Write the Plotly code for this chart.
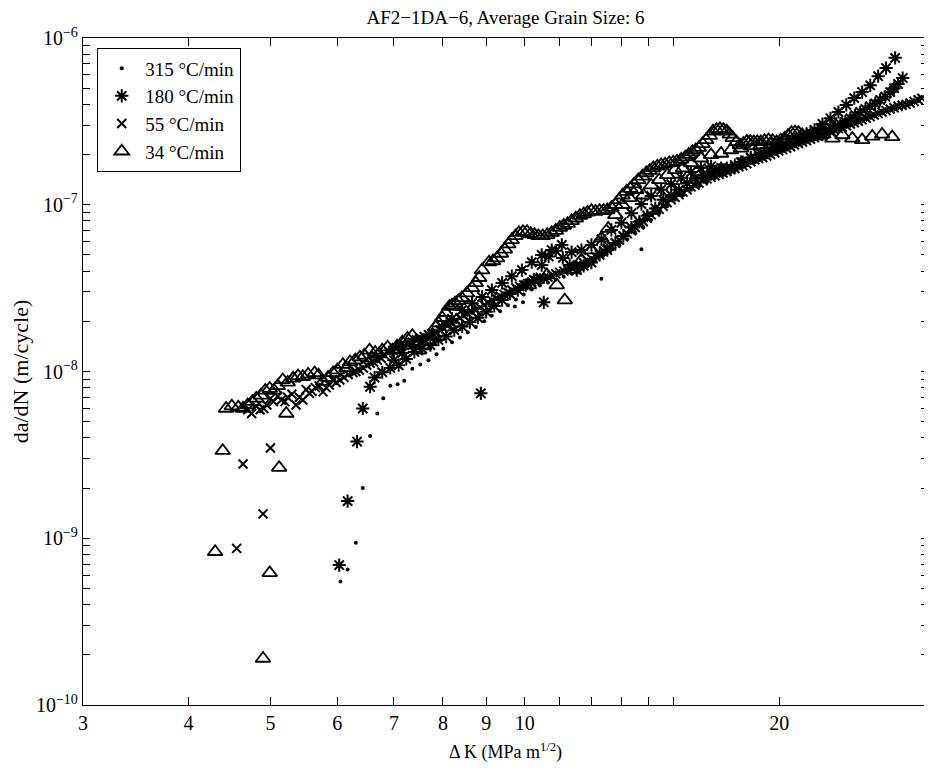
import plotly.graph_objects as go

# ---------------- data ----------------
# 315 C/min (dots)
dk_315 = [6.05, 6.17, 6.31, 6.43, 6.56, 6.69, 6.80, 6.93, 7.07, 7.20,
          7.36, 7.52, 7.69, 7.86, 8.01, 8.20, 8.38, 8.56, 8.75, 8.95,
          9.14, 9.35, 9.55, 9.73, 9.76, 9.95, 9.97, 10.19, 10.42, 10.65,
          10.88, 11.12, 11.36, 11.61, 11.86, 12.12, 12.32, 12.39, 12.66, 12.94,
          13.22, 13.51, 13.74, 13.81, 14.11, 14.42, 14.74, 15.06, 15.39, 15.73,
          16.07, 16.43, 16.79, 17.16, 17.53, 17.92, 18.31, 18.71, 19.12, 19.54,
          19.97, 20.41, 20.85, 21.31, 21.78, 22.26, 22.75, 23.25, 23.76]
dadn_315 = [5.5e-10, 6.5e-10, 9.4e-10, 2.0e-9, 4.1e-9, 5.6e-9, 6.9e-9, 8.2e-9, 8.4e-9, 8.8e-9,
            1.04e-8, 1.1e-8, 1.17e-8, 1.27e-8, 1.37e-8, 1.5e-8, 1.6e-8, 1.72e-8, 1.85e-8, 2.0e-8,
            2.16e-8, 2.3e-8, 2.5e-8, 2.45e-8, 2.7e-8, 2.6e-8, 2.9e-8, 3.1e-8, 3.28e-8, 3.42e-8,
            3.55e-8, 3.7e-8, 3.85e-8, 4.05e-8, 4.28e-8, 4.6e-8, 3.6e-8, 4.98e-8, 5.4e-8, 5.7e-8,
            6.2e-8, 6.75e-8, 5.4e-8, 7.3e-8, 8.1e-8, 8.9e-8, 9.8e-8, 1.07e-7, 1.14e-7, 1.23e-7,
            1.29e-7, 1.37e-7, 1.45e-7, 1.51e-7, 1.57e-7, 1.66e-7, 1.73e-7, 1.80e-7, 1.9e-7, 1.99e-7,
            2.07e-7, 2.18e-7, 2.28e-7, 2.38e-7, 2.52e-7, 2.64e-7, 2.81e-7, 2.97e-7, 3.15e-7]

# 180 C/min (asterisks)
dk_180 = [6.03, 6.17, 6.33, 6.43, 6.56, 8.87,
          6.64, 6.78, 6.93, 7.09, 7.24, 7.40, 7.56, 7.73, 7.90, 8.07,
          8.25, 8.43, 8.61, 8.80, 9.00, 9.20, 9.40, 9.60, 9.81, 10.03,
          10.25, 10.47, 10.53, 10.67, 10.88, 11.09, 11.30, 11.52, 11.74, 11.99,
          12.26, 12.52, 12.80, 13.08, 13.37, 13.66, 13.96, 14.27, 14.58, 14.90,
          15.22, 15.56, 15.91, 16.25, 16.61, 16.98, 17.34, 17.72, 18.11, 18.51,
          18.91, 19.33, 19.76, 20.19, 20.63, 21.08, 21.55, 22.02,
          23.00, 23.63, 24.28, 24.94, 25.63, 26.33, 27.06, 27.65, 28.0,
          7.0, 7.16, 7.36, 7.56, 7.77, 7.98, 8.20, 8.43, 8.66, 8.90,
          9.14, 9.40, 9.65, 9.92, 10.19, 10.47, 10.76, 11.06, 11.36, 11.67,
          11.99, 12.32, 12.66, 13.01, 13.37, 13.74, 14.11, 14.50, 14.90, 15.31,
          15.73, 16.16, 16.61, 17.07, 17.53, 18.02, 18.51, 19.02, 19.54, 20.08,
          20.63, 21.20, 21.78, 22.38, 22.50, 23.00, 23.50, 24.01, 24.54, 25.07,
          25.63, 26.19, 26.76, 27.43,
          22.70, 23.30, 23.95, 24.60, 25.30, 25.98, 26.70, 27.35]
dadn_180 = [6.9e-10, 1.67e-9, 3.8e-9, 6.0e-9, 8.1e-9, 7.4e-9,
            9.2e-9, 9.9e-9, 1.05e-8, 1.09e-8, 1.19e-8, 1.31e-8, 1.37e-8, 1.44e-8, 1.55e-8, 1.62e-8,
            1.77e-8, 1.86e-8, 1.98e-8, 2.1e-8, 2.28e-8, 2.47e-8, 2.68e-8, 2.93e-8, 3.08e-8, 3.3e-8,
            3.54e-8, 4.35e-8, 2.6e-8, 4.9e-8, 5.3e-8, 4.8e-8, 4.35e-8, 4.06e-8, 4.3e-8, 4.5e-8,
            5.0e-8, 5.35e-8, 5.9e-8, 6.5e-8, 7.3e-8, 7.9e-8, 8.6e-8, 9.5e-8, 1.07e-7, 1.14e-7,
            1.23e-7, 1.35e-7, 1.44e-7, 1.51e-7, 1.57e-7, 1.62e-7, 1.66e-7, 1.73e-7, 1.80e-7, 1.9e-7,
            1.99e-7, 2.07e-7, 2.18e-7, 2.28e-7, 2.38e-7, 2.52e-7, 2.66e-7, 2.81e-7,
            2.9e-7, 3.05e-7, 3.3e-7, 3.6e-7, 3.9e-7, 4.25e-7, 4.74e-7, 5.3e-7, 5.75e-7,
            1.17e-8, 1.29e-8, 1.44e-8, 1.55e-8, 1.67e-8, 1.86e-8, 2.07e-8, 2.34e-8, 2.57e-8, 2.8e-8,
            3.08e-8, 3.4e-8, 3.73e-8, 4.06e-8, 4.52e-8, 5.0e-8, 5.35e-8, 5.74e-8, 5.2e-8, 5.35e-8,
            5.74e-8, 6.2e-8, 7.06e-8, 7.8e-8, 8.9e-8, 1.01e-7, 1.13e-7, 1.23e-7, 1.33e-7, 1.45e-7,
            1.57e-7, 1.66e-7, 1.70e-7, 1.66e-7, 1.66e-7, 1.8e-7, 1.92e-7, 2.03e-7, 2.13e-7, 2.25e-7,
            2.38e-7, 2.52e-7, 2.69e-7, 2.88e-7, 3.05e-7, 3.3e-7, 3.6e-7, 3.97e-7, 4.36e-7, 4.74e-7,
            5.2e-7, 5.9e-7, 6.6e-7, 7.6e-7,
            2.8e-7, 2.98e-7, 3.15e-7, 3.45e-7, 3.75e-7, 4.05e-7, 4.45e-7, 5.0e-7]

# 55 C/min (crosses)
dk_55 = [4.64, 5.00, 4.90, 4.56,
         4.75, 4.86, 4.95, 5.04, 5.15, 5.24, 5.36, 5.46, 5.56, 5.65,
         5.77, 5.87, 5.98, 6.11, 6.26, 6.37, 6.50, 6.62, 6.76, 6.91,
         7.05, 7.20, 7.36, 7.52, 7.69, 7.86, 8.01, 8.20, 8.38, 8.56,
         8.75, 8.95, 9.14, 9.35, 9.55, 9.76, 9.97, 10.19, 10.42, 10.65,
         10.88, 11.12, 11.36, 11.61, 11.86, 12.12, 12.39, 12.66, 12.94, 13.22,
         13.51, 13.81, 14.11, 14.42, 14.74, 15.06, 15.39, 15.73, 16.07, 16.43,
         16.79, 17.16, 17.53, 17.92, 18.31, 18.71, 19.12, 19.54, 19.97, 20.41,
         20.85, 21.31, 21.78, 22.26, 22.75, 23.25, 23.76, 24.28, 24.81, 25.35,
         25.91, 26.47, 27.06, 27.65, 28.26, 28.88, 29.5,
         4.70, 4.81, 4.91, 5.00, 5.10, 5.20, 5.30, 5.41, 5.51, 5.60,
         5.71, 5.82, 5.93, 6.04, 6.18, 6.31, 6.44, 6.56, 6.69, 6.83,
         6.98, 7.12, 7.28, 7.44, 7.60, 7.77, 7.94, 8.10, 8.29, 8.47,
         8.65, 8.85, 9.04, 9.25, 9.45, 9.65, 9.86, 10.08, 10.30, 10.53,
         10.76, 11.00, 11.24, 11.48, 11.74, 11.99, 12.26, 12.52, 12.80, 13.08,
         13.37, 13.66, 13.96, 14.27, 14.58, 14.90, 15.22, 15.56, 15.90, 16.25,
         16.61, 16.98, 17.34, 17.72, 18.11, 18.51, 18.91, 19.33, 19.76, 20.19,
         20.63, 21.08, 21.55, 22.02, 22.50, 23.00, 23.50, 24.02, 24.54, 25.07,
         25.63, 26.19, 26.76, 27.35, 27.95, 28.57, 29.20]
dadn_55 = [2.79e-9, 3.48e-9, 1.40e-9, 8.7e-10,
           5.6e-9, 5.9e-9, 6.3e-9, 6.6e-9, 6.75e-9, 7.0e-9, 6.3e-9, 6.75e-9, 7.4e-9, 8.0e-9,
           7.55e-9, 8.3e-9, 8.6e-9, 9.2e-9, 9.85e-9, 1.02e-8, 1.09e-8, 1.14e-8, 1.2e-8, 1.31e-8,
           1.38e-8, 1.44e-8, 1.5e-8, 1.59e-8, 1.66e-8, 1.72e-8, 1.82e-8, 1.95e-8, 2.1e-8, 2.23e-8,
           2.34e-8, 2.5e-8, 2.68e-8, 2.83e-8, 2.98e-8, 3.17e-8, 3.3e-8, 3.44e-8, 3.6e-8, 3.68e-8,
           3.85e-8, 4.0e-8, 4.18e-8, 4.35e-8, 4.6e-8, 4.92e-8, 5.3e-8, 5.66e-8, 6.15e-8, 6.7e-8,
           7.3e-8, 7.9e-8, 8.7e-8, 9.4e-8, 1.03e-7, 1.11e-7, 1.19e-7, 1.28e-7, 1.35e-7, 1.43e-7,
           1.49e-7, 1.55e-7, 1.62e-7, 1.69e-7, 1.76e-7, 1.86e-7, 1.92e-7, 2.0e-7, 2.1e-7, 2.18e-7,
           2.28e-7, 2.38e-7, 2.47e-7, 2.57e-7, 2.68e-7, 2.81e-7, 2.92e-7, 3.05e-7, 3.17e-7, 3.3e-7,
           3.45e-7, 3.6e-7, 3.75e-7, 3.9e-7, 4.0e-7, 4.17e-7, 4.35e-7,
           5.9e-9, 6.2e-9, 6.0e-9, 6.9e-9, 7.1e-9, 6.6e-9, 7.3e-9, 7.0e-9, 7.8e-9, 7.6e-9,
           8.2e-9, 8.0e-9, 8.9e-9, 8.9e-9, 9.6e-9, 1.0e-8, 1.05e-8, 1.12e-8, 1.17e-8, 1.25e-8,
           1.34e-8, 1.42e-8, 1.46e-8, 1.55e-8, 1.62e-8, 1.69e-8, 1.77e-8, 1.88e-8, 2.02e-8, 2.17e-8,
           2.28e-8, 2.42e-8, 2.6e-8, 2.75e-8, 2.9e-8, 3.08e-8, 3.24e-8, 3.37e-8, 3.52e-8, 3.64e-8,
           3.77e-8, 3.93e-8, 4.09e-8, 4.26e-8, 4.48e-8, 4.75e-8, 5.1e-8, 5.48e-8, 5.9e-8, 6.42e-8,
           7.0e-8, 7.6e-8, 8.3e-8, 9.05e-8, 9.8e-8, 1.07e-7, 1.15e-7, 1.23e-7, 1.31e-7, 1.39e-7,
           1.46e-7, 1.52e-7, 1.58e-7, 1.65e-7, 1.72e-7, 1.81e-7, 1.89e-7, 1.96e-7, 2.05e-7, 2.14e-7,
           2.23e-7, 2.33e-7, 2.42e-7, 2.52e-7, 2.62e-7, 2.74e-7, 2.86e-7, 2.98e-7, 3.1e-7, 3.23e-7,
           3.37e-7, 3.52e-7, 3.67e-7, 3.82e-7, 3.95e-7, 4.08e-7, 4.26e-7]

# 34 C/min (triangles)
dk_34 = [4.30, 4.39, 4.90, 4.99, 5.12, 5.22,
         4.43, 4.58, 4.70, 4.81, 4.93, 5.05, 5.17, 5.32, 5.46, 5.64,
         5.77, 5.93, 6.09, 6.21, 6.38, 6.55, 6.65, 6.78, 6.97, 7.16,
         7.36, 7.49, 7.71, 7.84, 7.98, 8.14, 8.27, 8.42, 8.66, 8.83, 8.90,
         9.07, 9.27, 9.47, 9.65, 9.84, 10.06, 10.27, 10.50, 10.76, 11.00,
         11.24, 11.49, 11.74, 11.99, 12.26, 12.52, 12.80, 13.05, 13.33, 13.62,
         13.92, 14.19, 14.50, 14.82, 15.14, 15.48, 15.78, 16.07, 16.39, 16.70,
         17.02, 17.34, 17.62, 17.97, 18.31, 18.66, 19.02, 19.43, 19.86, 20.30,
         20.68, 21.08, 21.55, 22.02, 22.50, 23.12, 23.76, 24.41, 25.07, 25.77,
         26.47, 27.21,
         10.11, 10.33, 10.62, 10.91, 11.15, 11.42, 11.67, 11.99, 12.32, 12.55,
         12.80, 13.05, 13.30, 13.55, 13.81, 14.11, 14.42, 14.74, 15.06, 15.39,
         15.73, 16.16, 16.61, 17.07, 17.53, 18.02, 18.51, 19.02, 19.54,
         4.50, 4.64, 4.76, 4.87, 4.99, 5.10, 5.24, 5.39, 5.54, 5.70,
         5.85, 6.00, 6.15, 6.30, 6.46, 6.60, 6.72, 6.88, 7.06, 7.26,
         7.42, 7.60, 7.78, 7.91, 8.06, 8.20, 8.34, 8.54, 8.75,
         9.17, 9.37, 9.56, 9.75, 9.95, 10.16, 10.38, 10.63, 10.88, 11.12,
         11.36, 11.62, 11.86, 12.12, 12.39, 12.66, 12.92, 13.19, 13.47, 13.77,
         14.05, 14.35, 14.66, 14.98, 15.31, 15.63, 15.93, 16.23, 16.55, 16.86,
         17.18, 17.48, 17.80, 18.14, 18.48, 18.84, 19.22, 19.64, 20.08, 20.49,
         20.88, 21.30, 21.78, 22.26]
dadn_34 = [8.3e-10, 3.35e-9, 1.9e-10, 6.2e-10, 2.65e-9, 5.6e-9,
           6.0e-9, 6.1e-9, 6.3e-9, 6.9e-9, 7.7e-9, 7.7e-9, 8.9e-9, 9.1e-9, 9.3e-9, 9.8e-9,
           8.7e-9, 9.8e-9, 1.1e-8, 1.14e-8, 1.22e-8, 1.34e-8, 1.3e-8, 1.34e-8, 1.34e-8, 1.5e-8,
           1.64e-8, 1.34e-8, 1.5e-8, 1.85e-8, 2.1e-8, 2.45e-8, 2.57e-8, 2.76e-8, 3.17e-8, 3.65e-8, 4.06e-8,
           4.53e-8, 4.78e-8, 5.4e-8, 6.15e-8, 6.8e-8, 6.9e-8, 6.6e-8, 6.5e-8, 6.8e-8, 7.3e-8,
           7.7e-8, 8.3e-8, 8.8e-8, 9.2e-8, 9.2e-8, 9.3e-8, 1.0e-7, 1.14e-7, 1.25e-7, 1.41e-7,
           1.55e-7, 1.66e-7, 1.73e-7, 1.78e-7, 1.82e-7, 1.93e-7, 2.07e-7, 2.2e-7, 2.45e-7, 2.76e-7,
           2.85e-7, 2.76e-7, 2.52e-7, 2.28e-7, 2.4e-7, 2.38e-7, 2.38e-7, 2.45e-7, 2.38e-7, 2.5e-7,
           2.7e-7, 2.7e-7, 2.55e-7, 2.57e-7, 2.64e-7, 2.5e-7, 2.62e-7, 2.5e-7, 2.45e-7, 2.57e-7,
           2.64e-7, 2.55e-7,
           3.3e-8, 3.54e-8, 3.79e-8, 3.3e-8, 2.68e-8, 4.06e-8, 4.66e-8, 5.35e-8, 6.3e-8, 7.2e-8,
           8.7e-8, 1.0e-7, 1.1e-7, 1.23e-7, 1.14e-7, 1.31e-7, 1.41e-7, 1.51e-7, 1.62e-7, 1.66e-7,
           1.78e-7, 1.9e-7, 1.99e-7, 2.03e-7, 2.13e-7, 2.18e-7, 2.25e-7, 2.28e-7, 2.3e-7,
           6.2e-9, 6.0e-9, 6.6e-9, 7.2e-9, 7.9e-9, 8.2e-9, 8.6e-9, 9.4e-9, 9.6e-9, 9.5e-9,
           9.2e-9, 1.02e-8, 1.05e-8, 1.17e-8, 1.25e-8, 1.2e-8, 1.27e-8, 1.4e-8, 1.42e-8, 1.58e-8,
           1.5e-8, 1.42e-8, 1.65e-8, 1.95e-8, 2.25e-8, 2.5e-8, 2.65e-8, 2.95e-8, 3.4e-8,
           4.6e-8, 5.1e-8, 5.8e-8, 6.5e-8, 6.9e-8, 6.7e-8, 6.5e-8, 6.6e-8, 7.0e-8, 7.5e-8,
           8.0e-8, 8.6e-8, 9.0e-8, 9.1e-8, 9.2e-8, 9.6e-8, 1.07e-7, 1.2e-7, 1.33e-7, 1.48e-7,
           1.6e-7, 1.7e-7, 1.75e-7, 1.8e-7, 1.87e-7, 2.0e-7, 2.13e-7, 2.32e-7, 2.6e-7, 2.82e-7,
           2.82e-7, 2.64e-7, 2.38e-7, 2.33e-7, 2.4e-7, 2.38e-7, 2.42e-7, 2.42e-7, 2.44e-7, 2.6e-7,
           2.72e-7, 2.62e-7, 2.56e-7, 2.6e-7]

series_names = ["315 \u00b0C/min", "180 \u00b0C/min",
                "55 \u00b0C/min", "34 \u00b0C/min"]

x_tick_vals = [3, 4, 5, 6, 7, 8, 9, 10, 11, 12, 13, 14, 15, 20]
x_tick_text = ["3", "4", "5", "6", "7", "8", "9", "10", "", "", "", "", "", "20"]

y_decades = [-10, -9, -8, -7, -6]
y_tick_vals = []
y_tick_text = []
for d in y_decades:
    for m in range(1, 10):
        if d == -6 and m > 1:
            break
        y_tick_vals.append(m * 10.0 ** d)
        y_tick_text.append("10<sup>%d</sup>" % d if m == 1 else "")
y_tick_text = [t.replace("-", "\u2212") for t in y_tick_text]

FONT = "Liberation Serif"

fig = go.Figure()
fig.add_trace(go.Scatter(x=dk_315, y=dadn_315, mode="markers", name=series_names[0],
                         marker=dict(symbol="circle", size=4, color="black")))
fig.add_trace(go.Scatter(x=dk_180, y=dadn_180, mode="markers", name=series_names[1],
                         marker=dict(symbol="asterisk-open", size=11, color="black",
                                     line=dict(color="black", width=2))))
fig.add_trace(go.Scatter(x=dk_55, y=dadn_55, mode="markers", name=series_names[2],
                         marker=dict(symbol="x-thin-open", size=9, color="black",
                                     line=dict(color="black", width=2))))
fig.add_trace(go.Scatter(x=dk_34, y=dadn_34, mode="markers", name=series_names[3],
                         marker=dict(symbol="triangle-up-open", size=13, color="black",
                                     line=dict(color="black", width=1.8))))

fig.update_layout(
    width=932, height=770,
    margin=dict(l=71, r=11, t=30, b=73),
    paper_bgcolor="white", plot_bgcolor="white",
    font=dict(family=FONT, size=18, color="black"),
    title=dict(text="AF2\u22121DA\u22126, Average Grain Size: 6", x=0.5, xref="paper",
               xanchor="center", y=0.997, yref="container", yanchor="top",
               font=dict(family=FONT, size=19, color="black")),
    legend=dict(x=0.0165, y=0.985, xanchor="left", yanchor="top",
                bgcolor="white", bordercolor="black", borderwidth=1.3,
                font=dict(family=FONT, size=19, color="black"),
                itemsizing="trace", itemwidth=37),
    showlegend=True,
)
fig.update_xaxes(type="log", range=[0.47712, 1.47712],
                 tickvals=x_tick_vals, ticktext=x_tick_text,
                 ticks="inside", ticklen=8, tickwidth=1, tickcolor="black",
                 showline=True, linecolor="black", linewidth=1.3, mirror="allticks",
                 showgrid=False, zeroline=False,
                 tickfont=dict(family=FONT, size=20),
                 title=dict(text="\u0394 K (MPa m<sup>1/2</sup>)", standoff=12,
                            font=dict(family=FONT, size=18)))
fig.update_yaxes(type="log", range=[-10, -6],
                 tickvals=y_tick_vals, ticktext=y_tick_text,
                 ticks="inside", ticklen=7, tickwidth=1, tickcolor="black",
                 showline=True, linecolor="black", linewidth=1.3, mirror="allticks",
                 showgrid=False, zeroline=False,
                 tickfont=dict(family=FONT, size=20),
                 title=dict(text="da/dN (m/cycle)", standoff=2,
                            font=dict(family=FONT, size=22)))

fig.write_html("out.html")
